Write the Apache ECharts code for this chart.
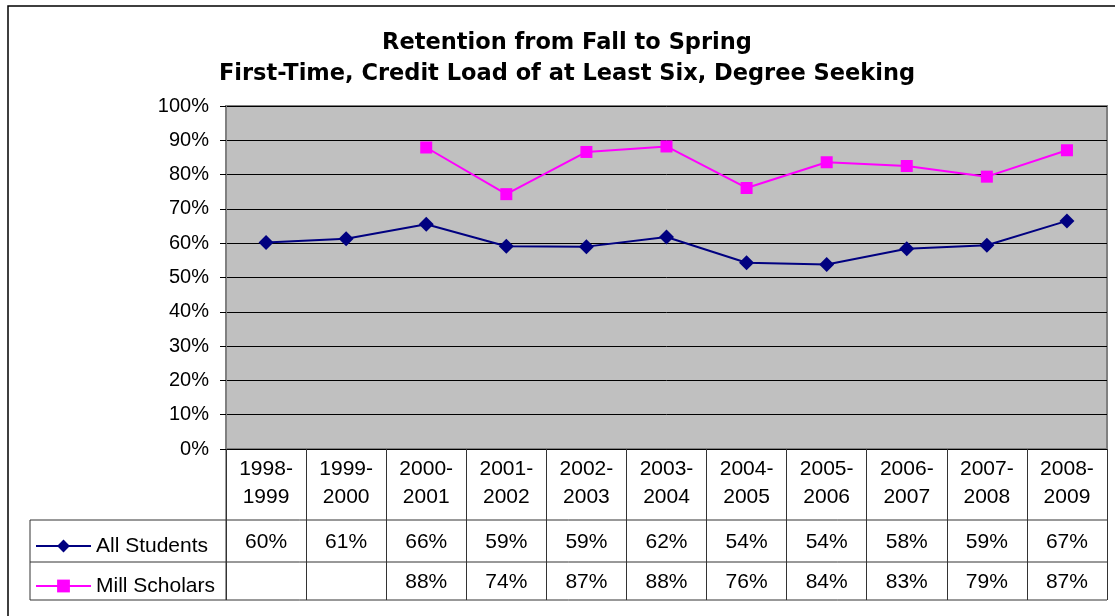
<!DOCTYPE html>
<html>
<head>
<meta charset="utf-8">
<script src="https://cdn.jsdelivr.net/npm/echarts@6/dist/echarts.min.js"></script>
<style>
  html, body { margin: 0; padding: 0; background: #fff; }
  #chart { width: 1115px; height: 616px; }
</style>
</head>
<body>
<div id="chart"></div>
<script>
const years = ["1998-\n1999", "1999-\n2000", "2000-\n2001", "2001-\n2002", "2002-\n2003", "2003-\n2004",
  "2004-\n2005", "2005-\n2006", "2006-\n2007", "2007-\n2008", "2008-\n2009"];
const allStudents = [60.2, 61.3, 65.5, 59.1, 59.0, 61.8, 54.3, 53.8, 58.4, 59.4, 66.5];
const millScholars = [null, null, 87.9, 74.3, 86.6, 88.2, 76.1, 83.6, 82.5, 79.4, 87.1];
const seriesNames = ["All Students", "Mill Scholars"];

const font = "'Liberation Sans', Arial, sans-serif";
const chart = echarts.init(document.getElementById("chart"));

function pct(v) {
  return v == null ? "" : Math.round(v) + "%";
}

const legendStyle = {
  orient: "vertical",
  left: 30,
  itemWidth: 55,
  itemHeight: 16,
  textStyle: { fontFamily: font, fontSize: 21, color: "#000", lineHeight: 22 },
};

chart.setOption({
  animation: false,
  title: {
    text: "Retention from Fall to Spring\nFirst-Time, Credit Load of at Least Six, Degree Seeking",
    left: 562,
    top: 23,
    textAlign: "center",
    textStyle: { fontFamily: "'DejaVu Sans', sans-serif", fontSize: 22.5, fontWeight: "bold", color: "#000", lineHeight: 31 },
  },
  legend: [
    Object.assign({ top: 530, data: [seriesNames[0]] }, legendStyle),
    Object.assign({ top: 570, data: [seriesNames[1]] }, legendStyle),
  ],
  grid: { left: 226, right: 8, top: 106, bottom: 167, show: true, backgroundColor: "#c0c0c0", borderColor: "#808080", borderWidth: 2 },
  xAxis: {
    type: "category",
    data: years,
    boundaryGap: true,
    axisLine: { lineStyle: { color: "#000", width: 1 } },
    axisTick: { show: true, length: 151, lineStyle: { color: "#333" } },
    axisLabel: { fontFamily: font, fontSize: 21, color: "#000", lineHeight: 28, margin: 6 },
  },
  yAxis: {
    type: "value",
    min: 0,
    max: 100,
    interval: 10,
    axisLine: { show: true, lineStyle: { color: "#808080", width: 2 } },
    axisTick: { show: true, length: 6, lineStyle: { color: "#000" } },
    axisLabel: { formatter: "{value}%", fontFamily: font, fontSize: 20, color: "#000", margin: 17 },
    splitLine: { lineStyle: { color: "#000", width: 1 } },
  },
  series: [
    {
      name: seriesNames[0],
      type: "line",
      data: allStudents,
      symbol: "diamond",
      symbolSize: 15,
      lineStyle: { color: "#000080", width: 2 },
      itemStyle: { color: "#000080" },
    },
    {
      name: seriesNames[1],
      type: "line",
      data: millScholars,
      symbol: "rect",
      symbolSize: 12,
      lineStyle: { color: "#ff00ff", width: 2 },
      itemStyle: { color: "#ff00ff" },
    },
  ],
});

// data table rows under the axis, placed from the axis scale
const x0 = 226;
const x1 = 1107;
const rowTop = [520, 562, 600];
const graphic = [
  { type: "rect", shape: { x: 8, y: 6, width: 1200, height: 700 }, style: { fill: null, stroke: "#000", lineWidth: 1.5 }, silent: true },
  { type: "line", shape: { x1: 30, y1: rowTop[0], x2: x1, y2: rowTop[0] }, style: { stroke: "#333", lineWidth: 1 } },
  { type: "line", shape: { x1: 30, y1: rowTop[1], x2: x1, y2: rowTop[1] }, style: { stroke: "#333", lineWidth: 1 } },
  { type: "line", shape: { x1: 30, y1: rowTop[2], x2: x1, y2: rowTop[2] }, style: { stroke: "#333", lineWidth: 1 } },
  { type: "line", shape: { x1: 30, y1: rowTop[0], x2: 30, y2: rowTop[2] }, style: { stroke: "#333", lineWidth: 1 } },
  { type: "line", shape: { x1: x0, y1: 449, x2: x0, y2: rowTop[2] }, style: { stroke: "#333", lineWidth: 1 } },
];
[allStudents, millScholars].forEach((arr, r) => {
  arr.forEach((v, i) => {
    const px = chart.convertToPixel({ xAxisIndex: 0 }, i);
    graphic.push({
      type: "text",
      x: px,
      y: (rowTop[r] + rowTop[r + 1]) / 2 + 1,
      style: { text: pct(v), font: "21px " + font, fill: "#000", align: "center", verticalAlign: "middle" },
    });
  });
});
chart.setOption({ graphic: graphic });
</script>
</body>
</html>
